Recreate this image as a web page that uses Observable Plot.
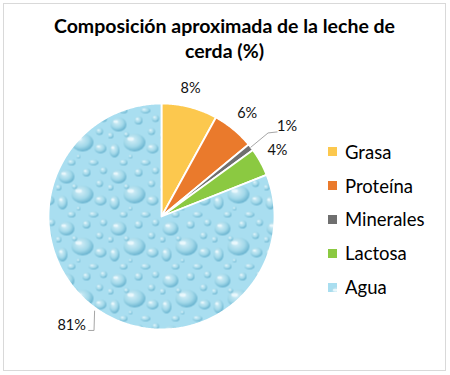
<!DOCTYPE html>
<html><head><meta charset="utf-8">
<script src="https://cdn.jsdelivr.net/npm/d3@7"></script>
<script src="https://cdn.jsdelivr.net/npm/@observablehq/plot@0.6"></script>
<style>
body{margin:0;background:#fff;}
#frame{position:absolute;left:3px;top:3px;width:441px;height:366px;border:1px solid #d9d9d9;background:#fff;overflow:hidden;}
#title{position:absolute;left:0;top:9px;width:100%;text-align:center;font-family:Lato,sans-serif;font-weight:bold;font-size:19.5px;line-height:25px;color:#000;}
#chart{position:absolute;left:0;top:58px;}
#legend{position:absolute;left:324px;top:131px;}
#legend .leg-swatch{height:33.8px;margin:0;padding:0;}
#legend .leg-swatch svg{margin-right:8px;}
</style></head><body>
<div id="frame">
  <div id="title">Composición aproximada de la leche de<br>cerda (%)</div>
  <div id="chart"></div>
  <div id="legend"></div>
</div>
<script>
// ---- data ----
const categories = ["Grasa", "Proteína", "Minerales", "Lactosa", "Agua"];
const values = [8, 6, 1, 4, 81];
const labels = ["8%", "6%", "1%", "4%", "81%"];

// ---- styles / layout (not data) ----
const colors = ["#fcc84e", "#ea7a2c", "#6f6f6f", "#8bc941", "url(#drops)"];
const labelRadius = [1.16, 1.19, 1.37, 1.18, 1.25];
const labelAngleShift = [-1.6, 0, 2, -0.8, 5.3]; // degrees

const deg = Math.PI / 180;
const arcs = d3.pie().sort(null).value(d => d)(values);

// slice outlines in unit-circle coordinates (y up, clockwise from top)
const slicePts = [];
arcs.forEach((a, i) => {
  const cat = categories[i];
  slicePts.push({cat, x: 0, y: 0});
  const n = Math.max(2, Math.ceil((a.endAngle - a.startAngle) / 0.01));
  for (let k = 0; k <= n; k++) {
    const t = a.startAngle + (a.endAngle - a.startAngle) * k / n;
    slicePts.push({cat, x: Math.sin(t), y: Math.cos(t)});
  }
});

const labelPts = arcs.map((a, i) => {
  const t = (a.startAngle + a.endAngle) / 2 + labelAngleShift[i] * deg;
  return {cat: categories[i], text: labels[i], x: labelRadius[i] * Math.sin(t), y: labelRadius[i] * Math.cos(t), mid: (a.startAngle + a.endAngle) / 2};
});

// leader lines for the small "Minerales" slice and for "Agua"
const leaders = [];
{
  const L = labelPts[2];
  const e = {x: Math.sin(L.mid), y: Math.cos(L.mid)};
  leaders.push({id: "m", x: e.x, y: e.y}, {id: "m", x: L.x - 0.168, y: L.y - 0.062}, {id: "m", x: L.x - 0.088, y: L.y - 0.053});
  const A = labelPts[4];
  const f = {x: Math.sin(A.mid), y: Math.cos(A.mid)};
  leaders.push({id: "a", x: f.x - 0.03, y: f.y - 0.01}, {id: "a", x: f.x - 0.035, y: A.y - 0.044}, {id: "a", x: A.x + 0.15, y: A.y - 0.044});
}

const svgTop = 62; // page y of svg origin (frame top 3 + border 1 + 58)
const cx = 157, cy = 216 - svgTop, R = 113;
const chart = Plot.plot({
  width: 441,
  height: 308,
  margin: 0,
  x: {domain: [-1, 1], range: [cx - R, cx + R], axis: null},
  y: {domain: [-1, 1], range: [cy + R, cy - R], axis: null},
  color: {domain: categories, range: colors},
  style: {fontFamily: "Lato, sans-serif", background: "transparent"},
  marks: [
    Plot.line(slicePts, {x: "x", y: "y", z: "cat", fill: "cat", stroke: "white", strokeWidth: 1.8, strokeLinejoin: "round", curve: "linear-closed"}),
    Plot.line(leaders, {x: "x", y: "y", z: "id", stroke: "#a6a6a6", strokeWidth: 1}),
    Plot.text(labelPts, {x: "x", y: "y", text: "text", fontSize: 14.5, fill: "#111"})
  ]
});

// water-drop texture for "Agua"
const svg = d3.select(chart);
const defs = svg.insert("defs", ":first-child");
const g = defs.append("radialGradient").attr("id", "dropGrad").attr("cx", "40%").attr("cy", "35%").attr("r", "65%");
g.append("stop").attr("offset", "0%").attr("stop-color", "#d3eef7");
g.append("stop").attr("offset", "60%").attr("stop-color", "#a2d8e9");
g.append("stop").attr("offset", "100%").attr("stop-color", "#69b3cf");
const pat = defs.append("pattern").attr("id", "drops").attr("patternUnits", "userSpaceOnUse").attr("width", 52).attr("height", 52);
pat.append("rect").attr("width", 52).attr("height", 52).attr("fill", "#a9def0");
const drops = [[10,10,8,7],[30,6,4,4],[26,28,11,9],[6,36,5,7],[44,34,6,5],[43,17,3.5,3.5],[15,48,4,3],[37,48,5,3],[2,21,3,3],[47,4,3.5,3.5],[18,20,2.5,2.5],[22,42,2,2]];
drops.forEach(([x, y, rx, ry]) => {
  pat.append("ellipse").attr("cx", x).attr("cy", y).attr("rx", rx).attr("ry", ry).attr("fill", "url(#dropGrad)");
  pat.append("ellipse").attr("cx", x - rx * 0.35).attr("cy", y - ry * 0.4).attr("rx", rx * 0.3).attr("ry", ry * 0.2).attr("fill", "#f4fcff").attr("opacity", 0.75);
});

document.getElementById("chart").append(chart);
document.getElementById("legend").append(chart.legend("color", {
  legend: "swatches", columns: 1, swatchSize: 9, className: "leg",
  style: {fontFamily: "Lato, sans-serif", fontSize: "18.5px", color: "#000"}
}));
</script>
</body></html>
